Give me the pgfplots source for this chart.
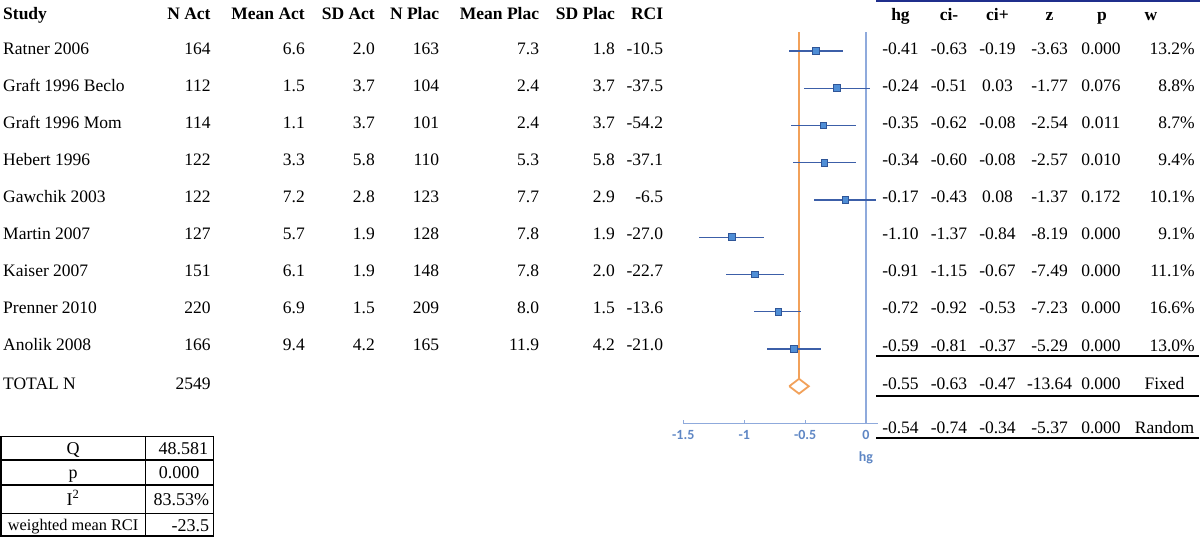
\documentclass[border=0pt]{standalone}
\usepackage{fontspec}
\setmainfont{Liberation Serif}
\newfontfamily\carlito{Carlito}
\usepackage{pgfplots}
\usepackage{pgfplotstable}
\pgfplotsset{compat=1.18}
\definecolor{axisblue}{HTML}{8FAADC}
\definecolor{tickblue}{HTML}{5E86C4}
\definecolor{mkfill}{HTML}{4F8ED6}
\definecolor{mkdraw}{HTML}{2F5597}
\definecolor{ciblue}{HTML}{3C5FA8}
\definecolor{orng}{HTML}{F2A15A}
\definecolor{navy}{HTML}{1F2E8C}

\pgfplotstableread{
row hg lo hi
-1 -0.41 -0.63 -0.19
-2 -0.24 -0.51 0.03
-3 -0.35 -0.62 -0.08
-4 -0.34 -0.60 -0.08
-5 -0.17 -0.43 0.08
-6 -1.10 -1.37 -0.84
-7 -0.91 -1.15 -0.67
-8 -0.72 -0.92 -0.53
-9 -0.59 -0.81 -0.37
}\forest

\begin{document}
\begin{tikzpicture}[
  t/.style={font=\fontsize{17.5}{20}\selectfont, inner sep=0pt},
  h/.style={font=\fontsize{17.5}{20}\selectfont\bfseries, inner sep=0pt},
  s/.style={font=\fontsize{18}{20}\selectfont, inner sep=0pt}]
\path[use as bounding box] (0pt,0pt) rectangle (1200pt,-539pt);

% ---------- forest plot ----------
\begin{axis}[
  at={(683.3pt,-423.5pt)}, anchor=south west,
  scale only axis, width=194.9pt, height=391.5pt,
  xmin=-1.5, xmax=0.1, ymin=-11, ymax=-0.49,
  axis x line=bottom, axis y line=none,
  x axis line style={-, axisblue, line width=1.2pt},
  xtick={-1.5,-1,-0.5,0}, xticklabels={-1.5,-1,-0.5,0},
  xticklabel style={font=\carlito\bfseries\fontsize{14}{14}\selectfont, text=tickblue, yshift=-3pt},
  tick align=inside, major tick length=4pt,
  x tick style={axisblue, line width=1pt},
  ytick=\empty, clip=false,
]
\draw[axisblue, line width=1.2pt] (axis cs:0,-0.49) -- (axis cs:0,-11);
\addplot[orng, line width=2.2pt] coordinates {(-0.55,-0.49) (-0.55,-9.8)};
\addplot[orng, line width=1.8pt, fill=white, line join=miter] coordinates
  {(-0.63,-10) (-0.55,-9.8) (-0.47,-10) (-0.55,-10.2) (-0.63,-10)};
\addplot[only marks, mark=square*, mark size=3.3pt,
  mark options={fill=mkfill, draw=mkdraw, line width=1pt},
  error bars/.cd, x dir=both, x explicit, error mark=none,
  error bar style={ciblue, line width=1.2pt}]
  table[x=hg, y=row, x error plus expr=\thisrow{hi}-\thisrow{hg},
        x error minus expr=\thisrow{hg}-\thisrow{lo}] {\forest};
\node[font=\carlito\bfseries\fontsize{14}{14}\selectfont, text=tickblue] at (axis cs:0,-11) [yshift=-34pt] {hg};
\end{axis}

% ---------- left table ----------
\node[h, anchor=base west] at (3pt,-19.5pt) {Study};
\foreach \x/\txt in {210.7/N Act, 305/Mean Act, 375/SD Act, 439.3/N Plac, 539.3/Mean Plac, 615/SD Plac, 663.3/RCI}
  \node[h, anchor=base east] at (\x pt,-19.5pt) {\txt};

\foreach \yc/\nm/\a/\b/\c/\d/\e/\f/\g in {
  49/Ratner 2006/164/6.6/2.0/163/7.3/1.8/-10.5,
  86/Graft 1996 Beclo/112/1.5/3.7/104/2.4/3.7/-37.5,
  123/Graft 1996 Mom/114/1.1/3.7/101/2.4/3.7/-54.2,
  160/Hebert 1996/122/3.3/5.8/110/5.3/5.8/-37.1,
  197/Gawchik 2003/122/7.2/2.8/123/7.7/2.9/-6.5,
  234/Martin 2007/127/5.7/1.9/128/7.8/1.9/-27.0,
  271/Kaiser 2007/151/6.1/1.9/148/7.8/2.0/-22.7,
  308/Prenner 2010/220/6.9/1.5/209/8.0/1.5/-13.6,
  345/Anolik 2008/166/9.4/4.2/165/11.9/4.2/-21.0}{
  \pgfmathsetmacro\yb{-(\yc+5.9)}
  \node[t, anchor=base west] at (3pt,\yb pt) {\nm};
  \node[t, anchor=base east] at (210.7pt,\yb pt) {\a};
  \node[t, anchor=base east] at (305pt,\yb pt) {\b};
  \node[t, anchor=base east] at (375pt,\yb pt) {\c};
  \node[t, anchor=base east] at (439.3pt,\yb pt) {\d};
  \node[t, anchor=base east] at (539.3pt,\yb pt) {\e};
  \node[t, anchor=base east] at (615pt,\yb pt) {\f};
  \node[t, anchor=base east] at (663.3pt,\yb pt) {\g};
}
\node[t, anchor=base west] at (3pt,-389.9pt) {TOTAL N};
\node[t, anchor=base east] at (210.7pt,-389.9pt) {2549};

% ---------- right table ----------
\draw[navy, line width=1.8pt] (876pt,-0.9pt) -- (1200pt,-0.9pt);
\foreach \x/\txt in {900.5/hg, 949/ci-, 997.5/ci+, 1049.6/z, 1102/p, 1151/w}
  \node[h, anchor=base] at (\x pt,-20pt) {\txt};
\foreach \yc/\a/\b/\c/\d/\e/\f in {
  49/-0.41/-0.63/-0.19/-3.63/0.000/13.2\%,
  86/-0.24/-0.51/0.03/-1.77/0.076/8.8\%,
  123/-0.35/-0.62/-0.08/-2.54/0.011/8.7\%,
  160/-0.34/-0.60/-0.08/-2.57/0.010/9.4\%,
  197/-0.17/-0.43/0.08/-1.37/0.172/10.1\%,
  234/-1.10/-1.37/-0.84/-8.19/0.000/9.1\%,
  271/-0.91/-1.15/-0.67/-7.49/0.000/11.1\%,
  308/-0.72/-0.92/-0.53/-7.23/0.000/16.6\%,
  345.5/-0.59/-0.81/-0.37/-5.29/0.000/13.0\%}{
  \pgfmathsetmacro\yb{-(\yc+5.9)}
  \node[t, anchor=base] at (900.5pt,\yb pt) {\a};
  \node[t, anchor=base] at (949pt,\yb pt) {\b};
  \node[t, anchor=base] at (997.5pt,\yb pt) {\c};
  \node[t, anchor=base] at (1049.6pt,\yb pt) {\d};
  \node[t, anchor=base] at (1101pt,\yb pt) {\e};
  \node[t, anchor=base east] at (1195pt,\yb pt) {\f};
}
\foreach \yc/\a/\b/\c/\d/\e/\f in {
  383.3/-0.55/-0.63/-0.47/-13.64/0.000/Fixed,
  427.7/-0.54/-0.74/-0.34/-5.37/0.000/Random}{
  \pgfmathsetmacro\yb{-(\yc+5.9)}
  \node[t, anchor=base] at (900.5pt,\yb pt) {\a};
  \node[t, anchor=base] at (949pt,\yb pt) {\b};
  \node[t, anchor=base] at (997.5pt,\yb pt) {\c};
  \node[t, anchor=base] at (1049.6pt,\yb pt) {\d};
  \node[t, anchor=base] at (1101pt,\yb pt) {\e};
  \node[t, anchor=base] at (1164.5pt,\yb pt) {\f};
}
\foreach \yl in {355.7, 396, 438}
  \draw[black, line width=1.7pt] (876pt,-\yl pt) -- (1199pt,-\yl pt);

% ---------- stats table ----------
\draw[line width=1.3pt] (1pt,-436.7pt) rectangle (213.3pt,-536pt);
\draw[line width=1.3pt] (145.7pt,-436.7pt) -- (145.7pt,-536pt);
\foreach \yl in {460, 485, 513.3}
  \draw[line width=1.3pt] (1pt,-\yl pt) -- (213.3pt,-\yl pt);
\node[s, anchor=base] at (73pt,-454.5pt) {Q};
\node[s, anchor=base] at (73pt,-478.5pt) {p};
\node[s, anchor=base] at (73pt,-505pt) {I\textsuperscript{2}};
\node[font=\fontsize{16.3}{18}\selectfont, inner sep=0pt, anchor=base] at (73pt,-530.2pt) {weighted mean RCI};
\node[s, anchor=base east] at (208.3pt,-454.5pt) {48.581};
\node[s, anchor=base] at (179pt,-478.5pt) {0.000};
\node[s, anchor=base east] at (209.3pt,-505pt) {83.53\%};
\node[s, anchor=base east] at (209.3pt,-531pt) {-23.5};
\end{tikzpicture}
\end{document}
